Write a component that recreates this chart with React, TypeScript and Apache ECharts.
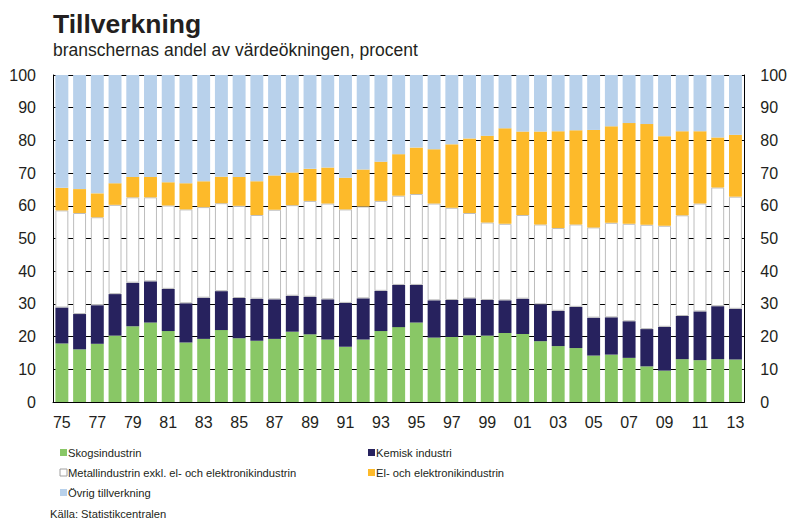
import React, { useEffect, useRef } from "react";
import * as echarts from "echarts";

const years = [
  "75","76","77","78","79","80","81","82","83","84","85","86","87","88","89",
  "90","91","92","93","94","95","96","97","98","99","00","01","02","03","04",
  "05","06","07","08","09","10","11","12","13",
];

const skog = [
  17.9, 16.1, 17.8, 20.3, 23.2, 24.3, 21.7, 18.2, 19.3, 22.0, 19.5, 18.7, 19.3, 21.5, 20.7,
  19.1, 16.9, 19.1, 21.7, 22.9, 24.3, 19.7, 19.9, 20.4, 20.3, 21.1, 20.8, 18.6, 17.1, 16.5,
  14.2, 14.5, 13.5, 10.9, 9.6, 13.1, 12.8, 13.1, 13.0,
];
const kemisk = [
  11.0, 10.8, 11.8, 12.7, 13.3, 12.6, 12.9, 12.0, 12.6, 11.9, 12.3, 12.9, 12.1, 11.0, 11.5,
  12.3, 13.4, 12.6, 12.3, 12.9, 11.5, 11.4, 11.3, 11.3, 10.9, 10.0, 10.8, 11.3, 10.8, 12.6,
  11.6, 11.4, 11.2, 11.4, 13.4, 13.2, 14.9, 16.2, 15.5,
];
const metall = [
  29.7, 30.9, 26.9, 27.3, 26.1, 25.7, 25.5, 28.7, 27.7, 26.9, 28.2, 25.6, 27.4, 27.7, 29.3,
  29.3, 28.6, 28.1, 27.5, 27.3, 27.8, 29.6, 28.2, 26.1, 23.7, 23.4, 25.6, 24.4, 25.3, 25.2,
  27.6, 28.9, 29.8, 31.9, 30.9, 30.8, 33.0, 36.3, 34.3,
];
const elektronik = [
  6.9, 7.3, 7.3, 6.6, 6.2, 6.2, 7.1, 8.0, 7.9, 8.1, 8.8, 10.3, 10.5, 10.0, 9.8,
  11.0, 9.7, 11.3, 12.0, 12.7, 14.2, 16.6, 19.4, 22.8, 26.5, 29.2, 25.5, 28.4, 29.6, 28.8,
  29.8, 29.5, 30.8, 30.8, 27.4, 25.7, 22.1, 15.3, 18.9,
];
const ovrig = [
  34.5, 34.9, 36.2, 33.1, 31.2, 31.2, 32.8, 33.1, 32.5, 31.1, 31.2, 32.5, 30.7, 29.8, 28.7,
  28.3, 31.4, 28.9, 26.5, 24.2, 22.2, 22.7, 21.2, 19.4, 18.6, 16.3, 17.3, 17.3, 17.2, 16.9,
  16.8, 15.7, 14.7, 15.0, 18.7, 17.2, 17.2, 19.1, 18.3,
];

const seriesNames = [
  "Skogsindustrin",
  "Kemisk industri",
  "Metallindustrin exkl. el- och elektronikindustrin",
  "El- och elektronikindustrin",
  "Övrig tillverkning",
];
const colors = ["#89c766", "#27225e", "#ffffff", "#fdba2a", "#b8d1eb"];

const FONT = "Liberation Sans, Arial, sans-serif";
const TEXT = "#231f20";

export default function App() {
  const ref = useRef<HTMLDivElement>(null);
  useEffect(() => {
    if (!ref.current) return;
    const chart = echarts.init(ref.current, undefined, { renderer: "svg" });
    const dataSets = [skog, kemisk, metall, elektronik, ovrig];

    const legendPos = [
      { x: 60, y: 453 },
      { x: 368, y: 453 },
      { x: 60, y: 473 },
      { x: 368, y: 473 },
      { x: 60, y: 493 },
    ];
    const legendGraphics: any[] = [];
    seriesNames.forEach((name, i) => {
      const p = legendPos[i];
      legendGraphics.push({
        type: "rect",
        shape: { x: p.x, y: p.y - 4, width: 7, height: 7 },
        style: {
          fill: colors[i],
          stroke: i === 2 ? "#a0a0a0" : colors[i],
          lineWidth: i === 2 ? 1 : 0,
        },
      });
      legendGraphics.push({
        type: "text",
        x: p.x + 8,
        y: p.y,
        style: {
          text: name,
          font: `11.2px ${FONT}`,
          fill: TEXT,
          verticalAlign: "middle",
          align: "left",
        },
      });
    });

    const yAxisCommon = {
      type: "value",
      min: 0,
      max: 100,
      interval: 10,
      axisLine: { show: true, lineStyle: { color: "#000", width: 1 } },
      axisTick: { show: false },
      axisLabel: { fontSize: 16, color: TEXT, fontFamily: FONT },
    };

    chart.setOption({
      animation: false,
      backgroundColor: "#fff",
      textStyle: { fontFamily: FONT },
      grid: { left: 53, right: 44, top: 75, bottom: 120, containLabel: false },
      xAxis: {
        type: "category",
        data: years,
        axisLine: { show: true, lineStyle: { color: "#000", width: 1 } },
        axisTick: { show: false },
        axisLabel: {
          interval: 1,
          fontSize: 16,
          color: TEXT,
          fontFamily: FONT,
          margin: 12,
        },
      },
      yAxis: [
        {
          ...yAxisCommon,
          position: "left",
          axisLabel: { ...yAxisCommon.axisLabel, margin: 17 },
          splitLine: { show: true, lineStyle: { color: "#000", width: 1 } },
        },
        {
          ...yAxisCommon,
          position: "right",
          axisLabel: { ...yAxisCommon.axisLabel, margin: 16 },
          splitLine: { show: false },
        },
      ],
      series: dataSets.map((d, i) => ({
        name: seriesNames[i],
        type: "bar",
        stack: "total",
        data: d,
        barCategoryGap: "27%",
        itemStyle: {
          color: colors[i],
          borderColor: i === 2 ? "#bdbdbd" : undefined,
          borderWidth: i === 2 ? 1 : 0,
        },
      })),
      graphic: [
        {
          type: "text",
          x: 53,
          y: 24,
          style: {
            text: "Tillverkning",
            font: `bold 26.5px ${FONT}`,
            fill: TEXT,
            verticalAlign: "middle",
          },
        },
        {
          type: "text",
          x: 53,
          y: 50,
          style: {
            text: "branschernas andel av värdeökningen, procent",
            font: `17.5px ${FONT}`,
            fill: TEXT,
            verticalAlign: "middle",
          },
        },
        ...legendGraphics,
        {
          type: "text",
          x: 50,
          y: 514,
          style: {
            text: "Källa: Statistikcentralen",
            font: `11.2px ${FONT}`,
            fill: TEXT,
            verticalAlign: "middle",
          },
        },
      ],
    });
    return () => chart.dispose();
  }, []);
  return <div ref={ref} style={{ width: 790, height: 522, position: "absolute", left: 0, top: 0 }} />;
}
